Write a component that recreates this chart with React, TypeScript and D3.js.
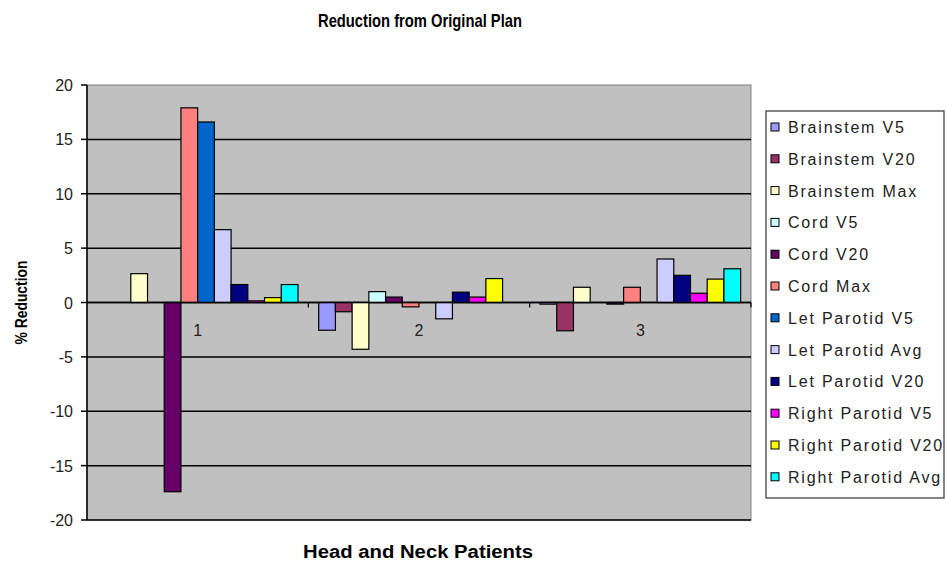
import React from 'react';
import * as d3 from 'd3';

const categories = ['1', '2', '3'];
const seriesNames = [
  'Brainstem V5', 'Brainstem V20', 'Brainstem Max', 'Cord V5', 'Cord V20', 'Cord Max',
  'Let Parotid V5', 'Let Parotid Avg', 'Let Parotid V20', 'Right Parotid V5', 'Right Parotid V20', 'Right Parotid Avg',
];
const seriesColors = [
  '#9999FF', '#993366', '#FFFFCC', '#CCFFFF', '#660066', '#FF8080',
  '#0066CC', '#CCCCFF', '#000080', '#FF00FF', '#FFFF00', '#00FFFF',
];
// values per series, in category order 1,2,3
const brainstemV5 = [0, -2.55, -0.15];
const brainstemV20 = [0, -0.85, -2.6];
const brainstemMax = [2.65, -4.3, 1.4];
const cordV5 = [0, 1.0, 0];
const cordV20 = [-17.4, 0.5, -0.15];
const cordMax = [17.9, -0.4, 1.4];
const letParotidV5 = [16.6, 0, 0];
const letParotidAvg = [6.7, -1.5, 4.0];
const letParotidV20 = [1.65, 0.95, 2.5];
const rightParotidV5 = [0.15, 0.5, 0.85];
const rightParotidV20 = [0.45, 2.2, 2.15];
const rightParotidAvg = [1.65, 0, 3.1];
const seriesValues = [
  brainstemV5, brainstemV20, brainstemMax, cordV5, cordV20, cordMax,
  letParotidV5, letParotidAvg, letParotidV20, rightParotidV5, rightParotidV20, rightParotidAvg,
];
const yTicks = [20, 15, 10, 5, 0, -5, -10, -15, -20];

const FONT = "'Liberation Sans', Arial, sans-serif";

export default function App() {
  const left = 87, right = 751, top = 85, bottom = 520;
  const x0 = d3.scaleBand<string>().domain(categories).range([left, right]).paddingInner(0).paddingOuter(0);
  const x1 = d3.scaleBand<string>().domain(seriesNames).range([0, x0.bandwidth()]).paddingInner(0).paddingOuter(0.62);
  const y = d3.scaleLinear().domain([-20, 20]).range([bottom, top]);
  const y0 = y(0);

  return (
    <svg width={946} height={565} style={{ position: 'absolute', left: 0, top: 0, background: '#fff' }}>
      <text x={420} y={27} textAnchor="middle" fontFamily={FONT} fontWeight="bold" fontSize={19} textLength={204} lengthAdjust="spacingAndGlyphs">Reduction from Original Plan</text>
      <rect x={left} y={top} width={right - left} height={bottom - top} fill="#C0C0C0" stroke="#808080" strokeWidth={1} />
      {yTicks.filter(t => t !== 20).map(t => (
        <line key={'g' + t} x1={left} x2={right} y1={y(t)} y2={y(t)} stroke="#000" strokeWidth={1.5} />
      ))}
      {categories.map((c, ci) =>
        seriesNames.map((s, si) => {
          const v = seriesValues[si][ci];
          if (v === 0) return null;
          const bx = (x0(c) as number) + (x1(s) as number);
          return (
            <rect key={c + s} x={bx} y={Math.min(y(v), y0)} width={x1.bandwidth()} height={Math.abs(y(v) - y0)}
              fill={seriesColors[si]} stroke="#000" strokeWidth={1.2} />
          );
        })
      )}
      <line x1={left} x2={right} y1={y0} y2={y0} stroke="#000" strokeWidth={1.5} />
      {categories.slice(1).map(c => (
        <line key={'ct' + c} x1={x0(c)} x2={x0(c)} y1={y0} y2={y0 + 5} stroke="#000" strokeWidth={1.2} />
      ))}
      <line x1={right} x2={right} y1={y0} y2={y0 + 5} stroke="#000" strokeWidth={1.2} />
      {categories.map(c => (
        <text key={'cl' + c} x={(x0(c) as number) + x0.bandwidth() / 2} y={y0 + 33} textAnchor="middle" fontFamily={FONT} fontSize={16} fill="#222">{c}</text>
      ))}
      <line x1={left} x2={left} y1={top} y2={bottom} stroke="#000" strokeWidth={1.5} />
      {yTicks.map(t => (
        <g key={'t' + t}>
          <line x1={left - 6} x2={left} y1={y(t)} y2={y(t)} stroke="#000" strokeWidth={1.5} />
          <text x={left - 14} y={y(t) + 6} textAnchor="end" fontFamily={FONT} fontSize={16} fill="#222">{t}</text>
        </g>
      ))}
      <text transform={`translate(27,${y0}) rotate(-90)`} textAnchor="middle" fontFamily={FONT} fontWeight="bold" fontSize={16} textLength={84} lengthAdjust="spacingAndGlyphs">% Reduction</text>
      <text x={418} y={558} textAnchor="middle" fontFamily={FONT} fontWeight="bold" fontSize={18} textLength={230} lengthAdjust="spacingAndGlyphs">Head and Neck Patients</text>
      <rect x={766} y={111} width={178} height={387} fill="#fff" stroke="#333" strokeWidth={1.2} />
      {seriesNames.map((s, i) => {
        const ly = 127 + i * 31.8;
        return (
          <g key={'lg' + s}>
            <rect x={771} y={ly - 4} width={8} height={8} fill={seriesColors[i]} stroke="#000" strokeWidth={1} />
            <text x={788} y={ly + 6} fontFamily={FONT} fontSize={16} letterSpacing={1.8} fill="#222">{s}</text>
          </g>
        );
      })}
    </svg>
  );
}
